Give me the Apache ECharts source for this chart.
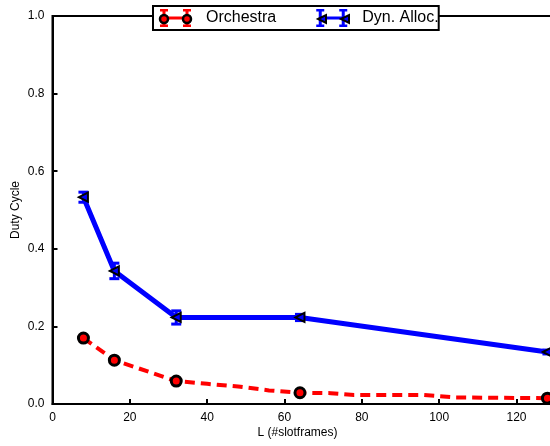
<!DOCTYPE html>
<html>
<head>
<meta charset="utf-8">
<script src="https://cdn.jsdelivr.net/npm/echarts@6/dist/echarts.min.js"></script>
<style>html,body{margin:0;padding:0;background:#fff}#c{width:550px;height:446px}</style>
</head>
<body>
<div id="c"></div>
<script>
// Data
const L = [8, 16, 32, 64, 128];
const orchestraDC = [0.170, 0.113, 0.059, 0.029, 0.015];
const orchestraErr = [0.005, 0.006, 0.005, 0.004, 0.003];
const dynAllocDC = [0.533, 0.343, 0.223, 0.223, 0.134];
const dynAllocErr = [0.013, 0.02, 0.017, 0.008, 0.005];
// intermediate points of the dashed Orchestra curve (no markers)
const orchestraCurveL = [40, 48, 56, 72, 78, 96, 104];
const orchestraCurveDC = [0.052, 0.045, 0.035, 0.028, 0.023, 0.023, 0.017];
const xTicks = [0, 20, 40, 60, 80, 100, 120];
const yTicks = [0.0, 0.2, 0.4, 0.6, 0.8, 1.0];

const FONT = 'Liberation Sans, Arial, sans-serif';

const orchestraLine = [];
L.forEach((x, i) => orchestraLine.push({ value: [x, orchestraDC[i]] }));
orchestraCurveL.forEach((x, i) => orchestraLine.push({ value: [x, orchestraCurveDC[i]], symbol: 'none' }));
orchestraLine.sort((a, b) => a.value[0] - b.value[0]);

const dynLine = L.map((x, i) => [x, dynAllocDC[i]]);
const orchErrData = L.map((x, i) => [x, orchestraDC[i] - orchestraErr[i], orchestraDC[i] + orchestraErr[i]]);
const dynErrData = L.map((x, i) => [x, dynAllocDC[i] - dynAllocErr[i], dynAllocDC[i] + dynAllocErr[i]]);

function errRender(color, capW, lw) {
  return function (params, api) {
    const x = api.value(0), lo = api.value(1), hi = api.value(2);
    const p1 = api.coord([x, hi]), p2 = api.coord([x, lo]);
    const st = { stroke: color, lineWidth: lw };
    return {
      type: 'group',
      children: [
        { type: 'line', shape: { x1: p1[0], y1: p1[1], x2: p2[0], y2: p2[1] }, style: st },
        { type: 'line', shape: { x1: p1[0] - capW, y1: p1[1], x2: p1[0] + capW, y2: p1[1] }, style: st },
        { type: 'line', shape: { x1: p2[0] - capW, y1: p2[1], x2: p2[0] + capW, y2: p2[1] }, style: st }
      ]
    };
  };
}

// legend icon: two error-bar "I" beams joined by a line
const errIcon = 'path://M0,0H8V2.5H5.5V7.5H25.5V2.5H23V0H31V2.5H28.5V15.5H31V18H23V15.5H25.5V10.5H5.5V15.5H8V18H0V15.5H2.5V2.5H0Z';

const chart = echarts.init(document.getElementById('c'), null, { renderer: 'canvas' });
chart.setOption({
  animation: false,
  backgroundColor: '#fff',
  textStyle: { fontFamily: FONT },
  grid: {
    left: 52.5, top: 16, bottom: 42, width: 522,
    outerBoundsMode: 'none', containLabel: false,
    show: true, borderColor: '#000', borderWidth: 2, backgroundColor: 'transparent'
  },
  legend: {
    left: 153, top: 6,
    padding: [3, 0, 3, 7],
    backgroundColor: '#fff',
    borderColor: '#000', borderWidth: 2,
    itemWidth: 31, itemHeight: 18, itemGap: 40,
    textStyle: { fontSize: 16, color: '#000', fontFamily: FONT, padding: [0, 0, 0, 10] },
    data: [
      { name: 'Orchestra', icon: errIcon, itemStyle: { color: '#ff0000', borderWidth: 0 } },
      { name: 'Dyn. Alloc.', icon: errIcon, itemStyle: { color: '#0000ff', borderWidth: 0 } }
    ]
  },
  graphic: [
    { type: 'circle', z: 100, shape: { cx: 164, cy: 19, r: 4 }, style: { fill: '#ff0000', stroke: '#000', lineWidth: 2.5 } },
    { type: 'circle', z: 100, shape: { cx: 187, cy: 19, r: 4 }, style: { fill: '#ff0000', stroke: '#000', lineWidth: 2.5 } },
    { type: 'polygon', z: 100, shape: { points: [[318, 19], [326, 15], [326, 23]] }, style: { fill: '#0000ff', stroke: '#000', lineWidth: 2 } },
    { type: 'polygon', z: 100, shape: { points: [[341, 19], [349, 15], [349, 23]] }, style: { fill: '#0000ff', stroke: '#000', lineWidth: 2 } }
  ],
  xAxis: {
    type: 'value', min: 0, max: 135, interval: 20,
    name: 'L (#slotframes)', nameLocation: 'middle', nameGap: 23, nameMoveOverlap: false,
    nameTextStyle: { fontSize: 12, color: '#000', fontFamily: FONT, padding: [0, 32, 0, 0] },
    axisLine: { show: true, lineStyle: { color: '#000', width: 2 } },
    axisTick: { show: true, inside: true, length: 5, lineStyle: { color: '#000', width: 2 } },
    axisLabel: { color: '#000', fontSize: 12, margin: 8, showMaxLabel: false, fontFamily: FONT,
      formatter: v => (xTicks.indexOf(v) >= 0 ? String(v) : '') },
    splitLine: { show: false }
  },
  yAxis: {
    type: 'value', min: 0, max: 1, interval: 0.2,
    name: 'Duty Cycle', nameLocation: 'middle', nameGap: 31, nameMoveOverlap: false,
    nameTextStyle: { fontSize: 12, color: '#000', fontFamily: FONT },
    axisLine: { show: true, lineStyle: { color: '#000', width: 2 } },
    axisTick: { show: true, inside: true, length: 5, lineStyle: { color: '#000', width: 2 } },
    axisLabel: { color: '#000', fontSize: 12, margin: 8, fontFamily: FONT,
      formatter: v => { const t = yTicks.find(y => Math.abs(y - v) < 1e-9); return t === undefined ? '' : t.toFixed(1); } },
    splitLine: { show: false }
  },
  series: [
    {
      name: 'Dyn. Alloc. err', type: 'custom', data: dynErrData, z: 2,
      renderItem: errRender('#0000ff', 5, 3), encode: { x: 0, y: [1, 2] }, silent: true
    },
    {
      name: 'Orchestra err', type: 'custom', data: orchErrData, z: 2,
      renderItem: errRender('#ff0000', 5, 3), encode: { x: 0, y: [1, 2] }, silent: true
    },
    {
      name: 'Dyn. Alloc.', type: 'line', data: dynLine, z: 3,
      color: '#0000ff',
      lineStyle: { color: '#0000ff', width: 5 },
      symbol: 'triangle', symbolRotate: 90, symbolSize: 9, showSymbol: true,
      itemStyle: { color: '#0000ff', borderColor: '#000', borderWidth: 2 }
    },
    {
      name: 'Orchestra', type: 'line', data: orchestraLine, z: 4,
      color: '#ff0000',
      lineStyle: { color: '#ff0000', width: 4, type: [10, 6] },
      symbol: 'circle', symbolSize: 10, showSymbol: true,
      itemStyle: { color: '#ff0000', borderColor: '#000', borderWidth: 3 }
    }
  ]
});
</script>
</body>
</html>
